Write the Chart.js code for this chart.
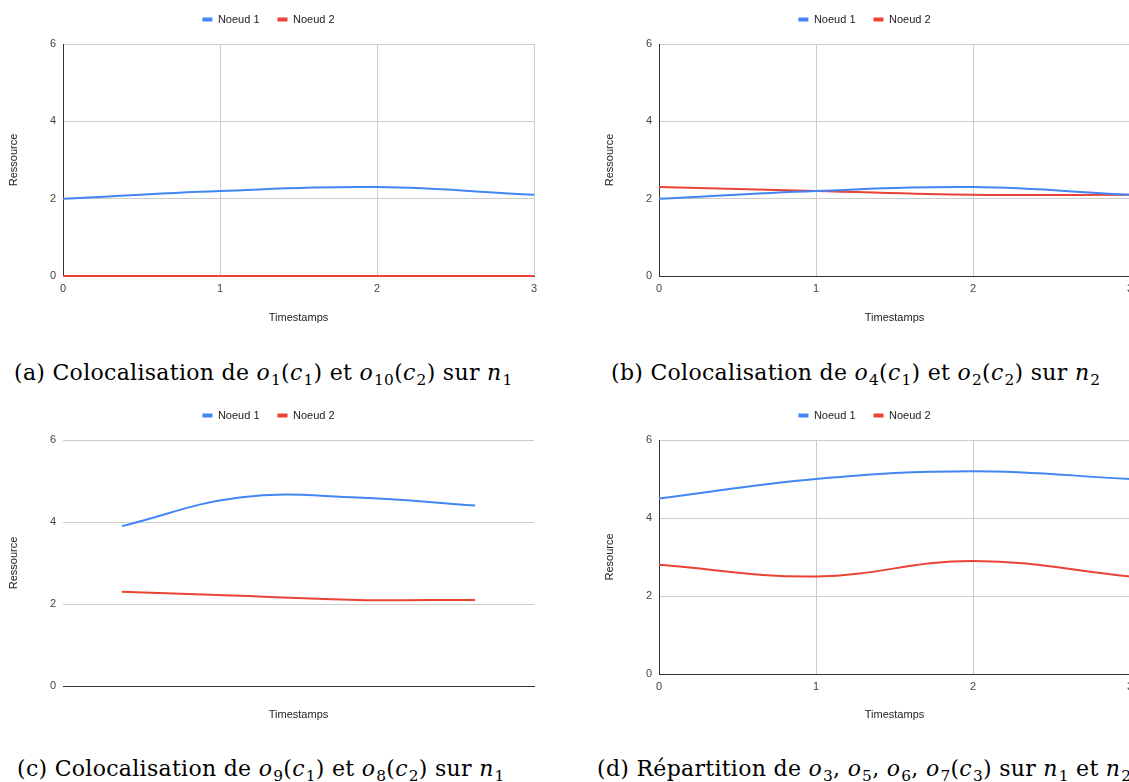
<!DOCTYPE html>
<html>
<head>
<meta charset="utf-8">
<script src="https://cdn.jsdelivr.net/npm/chart.js@4.4.1/dist/chart.umd.min.js"></script>
<style>
  html, body { margin: 0; padding: 0; background: #fff; overflow: hidden; width: 1129px; height: 782px; }
  .panel { position: absolute; width: 560px; }
  .cap {
    position: absolute; text-align: left; white-space: nowrap;
    font-family: "DejaVu Serif", serif; font-size: 22px; line-height: 28px; color: #000;
    letter-spacing: 0.3px;
  }
  .cap i { letter-spacing: 1.2px; }
  .cap sub { font-size: 70%; vertical-align: -0.3em; line-height: 0; font-style: normal; }
</style>
</head>
<body>
<div class="panel" style="left:0;top:-4px;height:336px"><canvas id="chart-a"></canvas></div>
<div class="panel" style="left:596px;top:-4px;height:336px"><canvas id="chart-b"></canvas></div>
<div class="panel" style="left:0;top:392px;height:337px"><canvas id="chart-c"></canvas></div>
<div class="panel" style="left:596px;top:392px;height:337px"><canvas id="chart-d"></canvas></div>

<div class="cap" style="left:14px;top:359px">(a) Colocalisation de <i>o</i><sub>1</sub>(<i>c</i><sub>1</sub>) et <i>o</i><sub>10</sub>(<i>c</i><sub>2</sub>) sur <i>n</i><sub>1</sub></div>
<div class="cap" style="left:611px;top:359px">(b) Colocalisation de <i>o</i><sub>4</sub>(<i>c</i><sub>1</sub>) et <i>o</i><sub>2</sub>(<i>c</i><sub>2</sub>) sur <i>n</i><sub>2</sub></div>
<div class="cap" style="left:17px;top:755px">(c) Colocalisation de <i>o</i><sub>9</sub>(<i>c</i><sub>1</sub>) et <i>o</i><sub>8</sub>(<i>c</i><sub>2</sub>) sur <i>n</i><sub>1</sub></div>
<div class="cap" style="left:597px;top:755px">(d) Répartition de <i>o</i><sub>3</sub>, <i>o</i><sub>5</sub>, <i>o</i><sub>6</sub>, <i>o</i><sub>7</sub>(<i>c</i><sub>3</sub>) sur <i>n</i><sub>1</sub> et <i>n</i><sub>2</sub></div>

<script>
// Data
const timestamps = ['0', '1', '2', '3'];
const yTicks = [0, 2, 4, 6];

const noeud1A = [2.0, 2.2, 2.3, 2.1];
const noeud2A = [0, 0, 0, 0];

const noeud1B = [2.0, 2.2, 2.3, 2.1];
const noeud2B = [2.3, 2.2, 2.1, 2.1];

const noeud1C = [3.9, 4.6, 4.6, 4.4];
const noeud2C = [2.3, 2.2, 2.1, 2.1];

const noeud1D = [4.5, 5.0, 5.2, 5.0];
const noeud2D = [2.8, 2.5, 2.9, 2.5];

const BLUE = '#4285F4';
const RED = '#EA4335';
const GRID = '#cccccc';
const AXIS = '#333333';

Chart.defaults.font.family = '"Liberation Sans", Arial, sans-serif';
Chart.defaults.font.size = 11;
Chart.defaults.color = '#222';

// Adds a little space between the legend and the plot
const legendGap = {
  id: 'legendGap',
  afterInit(chart) {
    const legend = chart.legend;
    if (!legend) return;
    const fit = legend.fit;
    legend.fit = function() {
      fit.call(legend);
      legend.height += 9;
    };
  }
};

function makeChart(id, n1, n2, opts) {
  const ctx = document.getElementById(id).getContext('2d');
  const xHidden = opts.hideX;
  return new Chart(ctx, {
    type: 'line',
    data: {
      labels: timestamps,
      datasets: [
        { label: 'Noeud 1', data: n1, borderColor: BLUE, backgroundColor: BLUE,
          borderWidth: 2, pointRadius: 0, tension: 0.4, clip: false },
        { label: 'Noeud 2', data: n2, borderColor: RED, backgroundColor: RED,
          borderWidth: 2, pointRadius: 0, tension: 0.4, clip: false }
      ]
    },
    options: {
      responsive: true,
      maintainAspectRatio: false,
      animation: false,
      layout: { padding: { left: 3, right: 26, top: 0, bottom: 0 } },
      plugins: {
        tooltip: { enabled: false },
        legend: {
          position: 'top',
          labels: {
            boxWidth: 10,
            boxHeight: 4,
            padding: 18,
            color: '#222',
            generateLabels(chart) {
              return Chart.defaults.plugins.legend.labels.generateLabels(chart)
                .map(l => Object.assign(l, { lineWidth: 0 }));
            }
          }
        }
      },
      scales: {
        x: {
          type: 'category',
          offset: xHidden,
          grid: {
            display: !xHidden,
            drawTicks: false,
            color: c => (c.index === 0 ? AXIS : GRID)
          },
          border: { display: true, color: AXIS, width: 1 },
          ticks: { display: !xHidden, padding: 6, color: '#444', maxRotation: 0 },
          title: { display: true, text: 'Timestamps', color: '#222', padding: { top: 4, bottom: 7 } },
          afterFit: s => { s.height = opts.xHeight; }
        },
        y: {
          min: 0,
          max: 6,
          afterBuildTicks: s => { s.ticks = yTicks.map(v => ({ value: v })); },
          grid: {
            drawTicks: false,
            color: c => (c.tick && c.tick.value === 0 ? AXIS : GRID)
          },
          border: { display: !xHidden, color: AXIS, width: 1 },
          ticks: { padding: 7, color: '#444' },
          title: { display: true, text: opts.yTitle, color: '#222', padding: { top: 4, bottom: 4 } },
          afterFit: s => { s.width = 60; }
        }
      }
    },
    plugins: [legendGap]
  });
}

makeChart('chart-a', noeud1A, noeud2A, { xHeight: 56, yTitle: 'Ressource', hideX: false });
makeChart('chart-b', noeud1B, noeud2B, { xHeight: 56, yTitle: 'Ressource', hideX: false });
makeChart('chart-c', noeud1C, noeud2C, { xHeight: 43, yTitle: 'Ressource', hideX: true });
makeChart('chart-d', noeud1D, noeud2D, { xHeight: 55, yTitle: 'Resource', hideX: false });
</script>
</body>
</html>
